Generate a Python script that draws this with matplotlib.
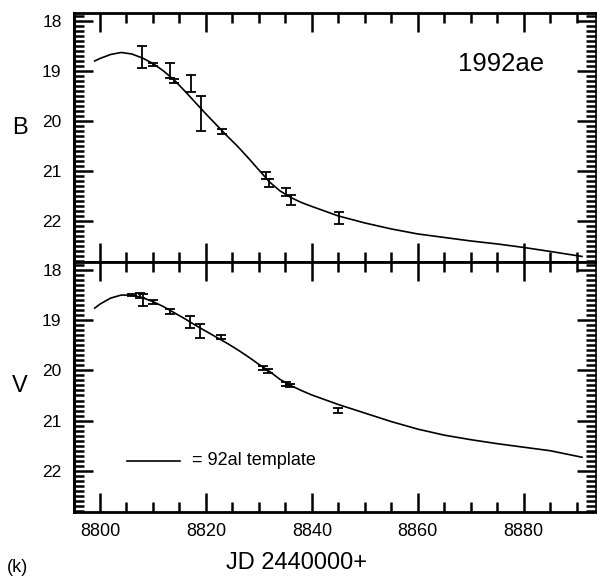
import numpy as np
import matplotlib
matplotlib.use('Agg')
import matplotlib.pyplot as plt
from matplotlib.ticker import MultipleLocator

plt.rcParams['font.family'] = ['Liberation Sans', 'DejaVu Sans']

# B band photometry (JD - 2440000, mag, error)
b_jd = [8807.9, 8810.1, 8813.2, 8814.0, 8817.1, 8819.1, 8823.1, 8831.3, 8832.0, 8835.2, 8836.0, 8845.1]
b_mag = [18.72, 18.87, 19.00, 19.20, 19.26, 19.85, 20.21, 21.10, 21.25, 21.42, 21.58, 21.95]
b_err = [0.22, 0.03, 0.15, 0.04, 0.17, 0.35, 0.05, 0.07, 0.08, 0.08, 0.10, 0.12]

# V band photometry
v_jd = [8806.0, 8807.5, 8808.2, 8810.1, 8813.3, 8816.9, 8818.9, 8822.9, 8830.8, 8831.8, 8835.2, 8835.8, 8845.0]
v_mag = [18.49, 18.50, 18.60, 18.64, 18.82, 19.03, 19.22, 19.34, 19.96, 20.01, 20.28, 20.31, 20.79]
v_err = [0.02, 0.05, 0.12, 0.04, 0.05, 0.12, 0.14, 0.04, 0.04, 0.04, 0.04, 0.03, 0.05]

# 92al template curves
tb_jd = [8799, 8800, 8802, 8804, 8806, 8808, 8810, 8812, 8814, 8816, 8818, 8820, 8822, 8824,
         8826, 8828, 8830, 8832, 8834, 8836, 8838, 8840, 8845, 8850, 8855, 8860, 8865, 8870,
         8875, 8880, 8885, 8891]
tb_mag = [18.80, 18.75, 18.67, 18.63, 18.66, 18.74, 18.85, 19.00, 19.18, 19.40, 19.63, 19.86,
          20.08, 20.30, 20.51, 20.74, 20.98, 21.22, 21.40, 21.53, 21.63, 21.71, 21.90, 22.04,
          22.16, 22.26, 22.33, 22.40, 22.46, 22.53, 22.61, 22.71]
tv_jd = tb_jd
tv_mag = [18.76, 18.68, 18.56, 18.50, 18.50, 18.55, 18.63, 18.73, 18.85, 18.97, 19.10, 19.22,
          19.34, 19.46, 19.59, 19.73, 19.88, 20.02, 20.18, 20.30, 20.40, 20.49, 20.68, 20.85,
          21.02, 21.17, 21.29, 21.38, 21.46, 21.53, 21.60, 21.73]

fig = plt.figure(figsize=(5.97, 5.77), dpi=100)
ax_b = fig.add_axes([0.124, 0.546, 0.874, 0.4315])
ax_v = fig.add_axes([0.124, 0.1127, 0.874, 0.4333])

for ax, jd, mag, err, tjd, tmag in [(ax_b, b_jd, b_mag, b_err, tb_jd, tb_mag),
                                     (ax_v, v_jd, v_mag, v_err, tv_jd, tv_mag)]:
    ax.plot(tjd, tmag, 'k-', lw=1.2)
    ax.errorbar(jd, mag, yerr=err, fmt='none', ecolor='k', elinewidth=1.3,
                capsize=3.5, capthick=1.3)
    ax.set_xlim(8795.1, 8893.6)
    ax.set_ylim(22.82, 17.84)
    ax.xaxis.set_major_locator(MultipleLocator(20))
    ax.xaxis.set_minor_locator(MultipleLocator(5))
    ax.yaxis.set_major_locator(MultipleLocator(1))
    ax.yaxis.set_minor_locator(MultipleLocator(0.1))
    ax.tick_params(which='both', direction='in', top=True, right=True, width=1.8)
    ax.tick_params(which='major', length=14)
    ax.tick_params(which='minor', length=7)
    ax.tick_params(axis='y', labelsize=12.5, pad=9)
    ax.tick_params(axis='x', labelsize=13, pad=8)
    ax.spines['left'].set_linewidth(2.2)
    ax.spines['bottom'].set_linewidth(2.0)
    ax.spines['top'].set_linewidth(2.0)
    ax.spines['right'].set_linewidth(1.2)

ax_b.tick_params(axis='x', labelbottom=False)

fig.text(20 / 597, 1 - 128 / 577, 'B', fontsize=17, ha='center', va='center')
fig.text(20 / 597, 1 - 386 / 577, 'V', fontsize=17, ha='center', va='center')
ax_b.text(0.818, 0.795, '1992ae', transform=ax_b.transAxes, fontsize=18.5,
          ha='center', va='center')

ax_v.plot([0.101, 0.203], [0.204, 0.204], 'k-', lw=1.2, transform=ax_v.transAxes)
ax_v.text(0.227, 0.204, '= 92al template', transform=ax_v.transAxes, fontsize=13,
          ha='left', va='center')

fig.text(296 / 597, 1 - 563 / 577, 'JD 2440000+', fontsize=17, ha='center', va='center')
fig.text(18 / 597, 1 - 567 / 577, '(k)', fontsize=13, ha='center', va='center')

fig.savefig('out.png', dpi=100)
